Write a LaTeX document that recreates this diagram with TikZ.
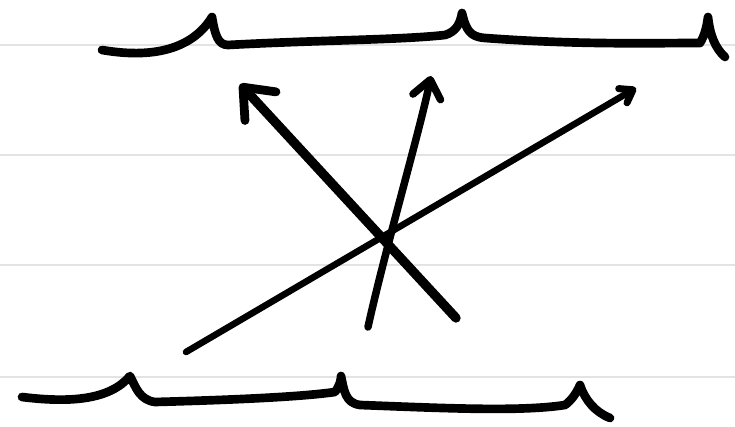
\documentclass[tikz,border=0pt]{standalone}
\usetikzlibrary{arrows.meta}

\begin{document}
\begin{tikzpicture}[
  x=0.03cm, y=-0.03cm,
  rule/.style={draw=gray!22, line width=2pt},
  brace/.style={line width=7.4pt, line cap=round, line join=round},
  arrow/.style={line width=8pt, line cap=round, line join=round,
                -{Straight Barb[length=22pt, width=36pt, line width=7.5pt, round]}},
  thinarrow/.style={line width=5.6pt, line cap=round,
                -{Straight Barb[length=10pt, width=14pt, line width=6pt, round]}}
]
  \useasboundingbox (0,0) rectangle (735,427);
  \foreach \y in {45,155,265,377}
    \draw[rule] (0,\y) -- (735,\y);

  % top brace
  \draw[brace] (102,50) .. controls (160,60) and (195,45) .. (212,17)
    .. controls (215,35) and (218,45) .. (228,45)
    .. controls (320,40) and (400,40) .. (445,35)
    .. controls (455,32) and (460,25) .. (462,13)
    .. controls (466,30) and (470,37) .. (485,38)
    .. controls (580,45) and (650,43) .. (700,43)
    .. controls (705,35) and (707,25) .. (708,17)
    .. controls (710,35) and (715,48) .. (725,57);

  % bottom brace
  \draw[brace] (22,397) .. controls (70,403) and (110,400) .. (130,376)
    .. controls (136,388) and (140,400) .. (155,402)
    .. controls (230,400) and (300,397) .. (335,392)
    .. controls (340,385) and (341,380) .. (341,376)
    .. controls (344,390) and (345,403) .. (360,405)
    .. controls (440,408) and (520,412) .. (565,405)
    .. controls (572,400) and (577,392) .. (580,385)
    .. controls (585,400) and (595,412) .. (610,418);

  \coordinate (a0) at (456,318);
  \coordinate (a1) at (240,84);
  \coordinate (b0) at (368,327);
  \coordinate (b1) at (431,76);
  \coordinate (c0) at (186,352);
  \coordinate (c1) at (636,88);

  \draw[arrow] (a0) -- (a1);
  \draw[line width=6.4pt, line cap=round,
        -{Straight Barb[length=15pt, width=24pt, line width=6.4pt, round]}]
    (b0) .. controls (385,250) and (420,130) .. (b1);
  \draw[thinarrow] (c0) -- (c1);
\end{tikzpicture}
\end{document}
